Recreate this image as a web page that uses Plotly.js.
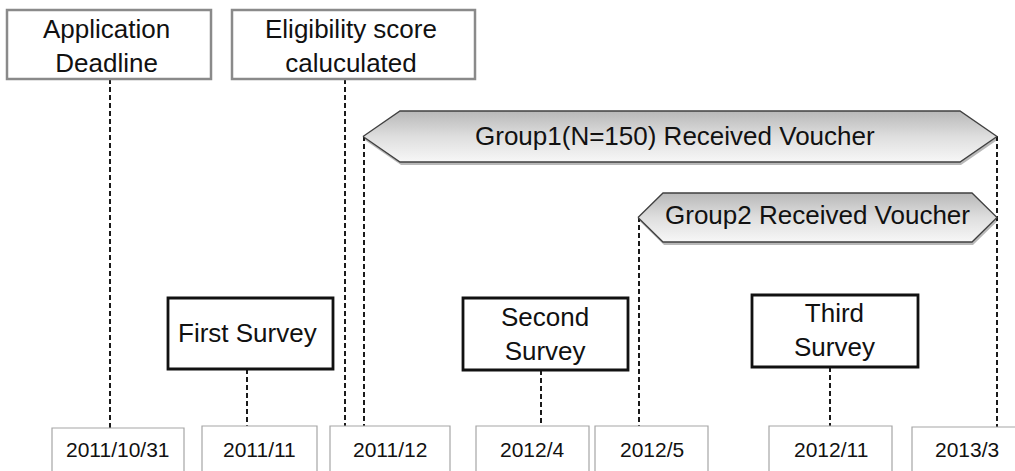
<!DOCTYPE html>
<html>
<head>
<meta charset="utf-8">
<script src="https://cdn.plot.ly/plotly-3.0.1.min.js"></script>
<style>html,body{margin:0;padding:0;background:#fff;}#chart{width:1015px;height:471px;}</style>
</head>
<body>
<div id="chart"></div>
<script>
// ---- content ----
const dateLabels = ['2011/10/31', '2011/11', '2011/12', '2012/4', '2012/5', '2012/11', '2013/3'];
const milestoneLabels = ['Application<br>Deadline', 'Eligibility score<br>caluculated'];
const surveyLabels = ['First Survey', 'Second<br>Survey', 'Third<br>Survey'];
const voucherLabels = ['Group1(N=150) Received Voucher', 'Group2 Received Voucher'];

// ---- diagram geometry (pixel layout of the timeline) ----
const dateBoxes = [[52,184,428],[202,317,426],[330,450,426],[476,589,426],[595,708,426],[769,892,426],[912,1025,427]];
const milestoneBoxes = [[7,211,10,79],[232,475,10,79]];
const milestoneText = [[106,46],[351,46]];
const surveyBoxes = [[168,333,298,369],[463,628,298,370],[752,918,295,367]];
const surveyText = [[247,333],[545,334],[834,330]];
const voucherArrows = [[363,997,111,162,37],[638,997,193,242,25]];
const voucherText = [[675,136],[817,215]];
const leaders = [[110,79,428],[345,79,426],[364,136,426],[247,369,426],[541,370,426],[639,217,426],[830,367,426],[997,136,427]];

const FONT = 'Arial, "Liberation Sans", sans-serif';
const shapes = [];
const annotations = [];
const traces = [];

// dashed leader lines
leaders.forEach(l => shapes.push({type:'line', xref:'x', yref:'y', x0:l[0], x1:l[0], y0:l[1], y1:l[2],
  line:{color:'#1a1a1a', width:2, dash:'5px,3px'}, layer:'below'}));

// date boxes
dateBoxes.forEach((b, i) => {
  shapes.push({type:'rect', xref:'x', yref:'y', x0:b[0], x1:b[1], y0:b[2], y1:490,
    line:{color:'#a6a6a6', width:1.2}, fillcolor:'#ffffff'});
  annotations.push({x:(b[0] + Math.min(b[1], 1022)) / 2, y:449, xref:'x', yref:'y', text:dateLabels[i], showarrow:false,
    xanchor:'center', yanchor:'middle', font:{family:FONT, size:21, color:'#111'}});
});

// milestone boxes (gray outline)
milestoneBoxes.forEach((b, i) => {
  shapes.push({type:'rect', xref:'x', yref:'y', x0:b[0], x1:b[1], y0:b[2], y1:b[3],
    line:{color:'#8a8a8a', width:2.5}, fillcolor:'#ffffff'});
  annotations.push({x:milestoneText[i][0], y:milestoneText[i][1], xref:'x', yref:'y', text:milestoneLabels[i], showarrow:false,
    xanchor:'center', yanchor:'middle', font:{family:FONT, size:26, color:'#111'}});
});

// survey boxes (black outline)
surveyBoxes.forEach((b, i) => {
  shapes.push({type:'rect', xref:'x', yref:'y', x0:b[0], x1:b[1], y0:b[2], y1:b[3],
    line:{color:'#111111', width:2.8}, fillcolor:'#ffffff'});
  annotations.push({x:surveyText[i][0], y:surveyText[i][1], xref:'x', yref:'y', text:surveyLabels[i], showarrow:false,
    xanchor:'center', yanchor:'middle', font:{family:FONT, size:26, color:'#111'}});
});

// voucher period arrows (hexagonal, gradient fill, shadow)
voucherArrows.forEach((a, i) => {
  const [x0, x1, yt, yb, d] = a;
  const ym = (yt + yb) / 2;
  const xs = [x0, x0 + d, x1 - d, x1, x1 - d, x0 + d, x0];
  const ys = [ym, yt, yt, ym, yb, yb, ym];
  // shadow
  traces.push({type:'scatter', mode:'lines', x:xs.map(v => v + 1), y:ys.map(v => v + 3), fill:'toself',
    fillcolor:'rgba(0,0,0,0.28)', line:{width:0, color:'rgba(0,0,0,0)'}, hoverinfo:'skip', showlegend:false});
  traces.push({type:'scatter', mode:'lines', x:xs, y:ys, fill:'toself',
    fillgradient:{type:'vertical', colorscale:[[0, '#f7f7f7'], [0.5, '#dedede'], [1, '#b8b8b8']]},
    line:{color:'#404040', width:1.3}, hoverinfo:'skip', showlegend:false});
  annotations.push({x:voucherText[i][0], y:voucherText[i][1], xref:'x', yref:'y', text:voucherLabels[i], showarrow:false,
    xanchor:'center', yanchor:'middle', font:{family:FONT, size:26, color:'#111'}});
});

const layout = {
  width:1015, height:471,
  margin:{l:0, r:0, t:0, b:0, pad:0},
  paper_bgcolor:'#ffffff', plot_bgcolor:'#ffffff',
  xaxis:{range:[0, 1015], visible:false, fixedrange:true},
  yaxis:{range:[471, 0], visible:false, fixedrange:true},
  showlegend:false,
  shapes:shapes,
  annotations:annotations
};

Plotly.newPlot('chart', traces, layout, {staticPlot:true, displayModeBar:false});
</script>
</body>
</html>
